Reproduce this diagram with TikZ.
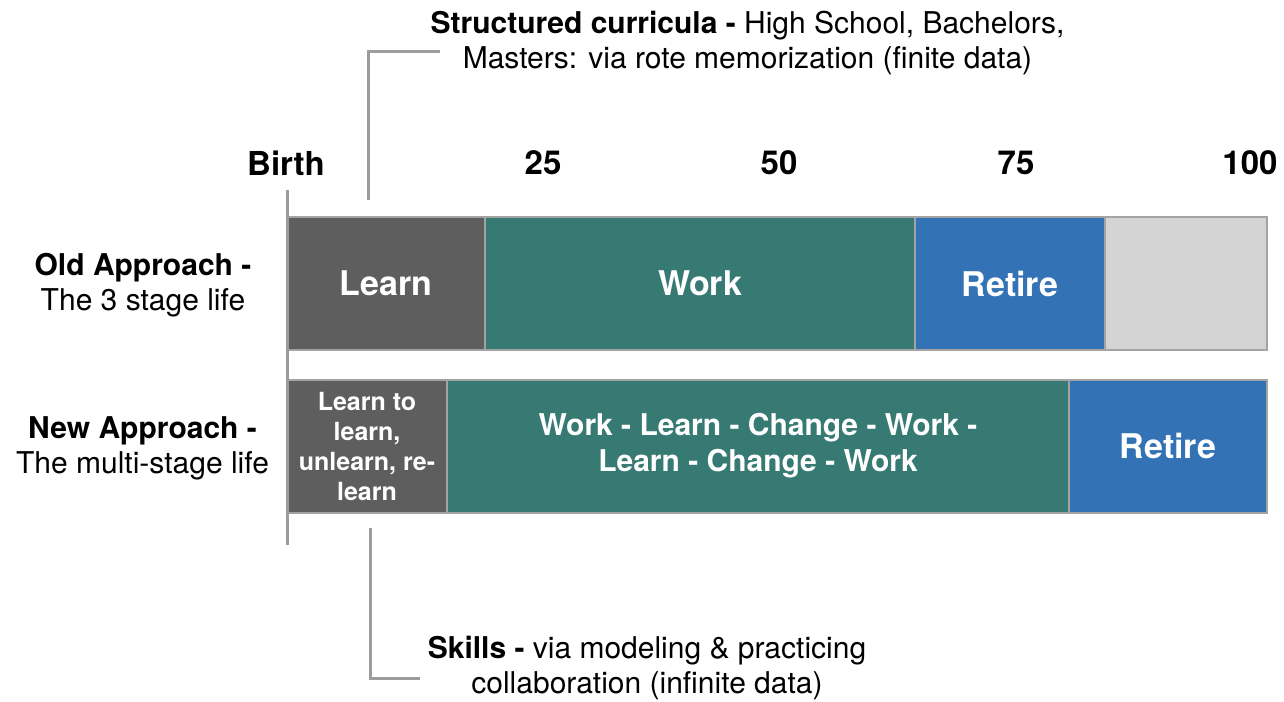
\documentclass[tikz,border=0pt]{standalone}
\usepackage{fontspec}
\setmainfont{TeX Gyre Heros}
\usetikzlibrary{positioning}
\definecolor{learngray}{HTML}{5E5E5E}
\definecolor{workteal}{HTML}{377A74}
\definecolor{retireblue}{HTML}{3472B6}
\definecolor{restgray}{HTML}{D4D4D4}
\definecolor{edgegray}{HTML}{A3A3A3}
\definecolor{linegray}{HTML}{9C9C9C}

\begin{document}
\begin{tikzpicture}[x=0.5pt, y=-0.5pt,
    stage/.style={draw=edgegray, line width=1pt, minimum height=66.5pt,
        inner sep=0pt, outer sep=0pt, anchor=west, text=white, align=center,
        font=\bfseries\fontsize{17}{20}\selectfont},
    tick/.style={font=\bfseries\fontsize{16.5}{20}\selectfont},
    note/.style={align=center, font=\fontsize{15}{17.5}\selectfont},
    leader/.style={draw=linegray, line width=1.5pt}
]
    \useasboundingbox (0,0) rectangle (1284,701);

    \node[stage, fill=learngray, minimum width=99pt] (learn old) at (287,283.5) {Learn};
    \node[stage, fill=workteal, minimum width=215pt, right=0pt of learn old] (work old) {Work};
    \node[stage, fill=retireblue, minimum width=95pt, right=0pt of work old] (retire old) {Retire};
    \node[stage, fill=restgray, minimum width=81pt, right=0pt of retire old] (rest old) {};

    \node[stage, fill=learngray, minimum width=80pt,
        font=\bfseries\fontsize{12.5}{15}\selectfont] (learn new) at (287,446)
        {Learn to\\learn,\\unlearn, re-\\learn};
    \node[stage, fill=workteal, minimum width=311pt,
        font=\bfseries\fontsize{15}{18}\selectfont, right=0pt of learn new] (work new)
        {Work - Learn - Change - Work -\\Learn - Change - Work};
    \node[stage, fill=retireblue, minimum width=99pt, right=0pt of work new] (retire new) {Retire};

    \node[tick] (birth) at (286,163) {Birth};
    \foreach \age/\xpos in {25/543,50/779,75/1016,100/1250}
        \node[tick] (age\age) at (\xpos,163) {\age};

    \coordinate (axis top) at (287,190);
    \coordinate (axis bottom) at (287,545);
    \draw[leader] (axis top) -- (axis bottom);

    \node[note] (old label) at (143,285) {\textbf{Old Approach -}\\The 3 stage life};
    \node[note] (new label) at (142.5,448.5) {\textbf{New Approach -}\\The multi-stage life};

    \node[note] (curricula) at (747.5,42.5)
        {\textbf{Structured curricula -} High School, Bachelors,\\Masters: via rote memorization (finite data)};
    \coordinate (curricula foot) at (368,200);
    \coordinate (curricula head) at (440,52);
    \draw[leader] (curricula foot) |- (curricula head);

    \node[note] (skills) at (647,668)
        {\textbf{Skills -} via modeling \& practicing\\collaboration (infinite data)};
    \coordinate (skills top) at (370,528);
    \coordinate (skills end) at (420,678);
    \draw[leader] (skills top) |- (skills end);
\end{tikzpicture}
\end{document}
